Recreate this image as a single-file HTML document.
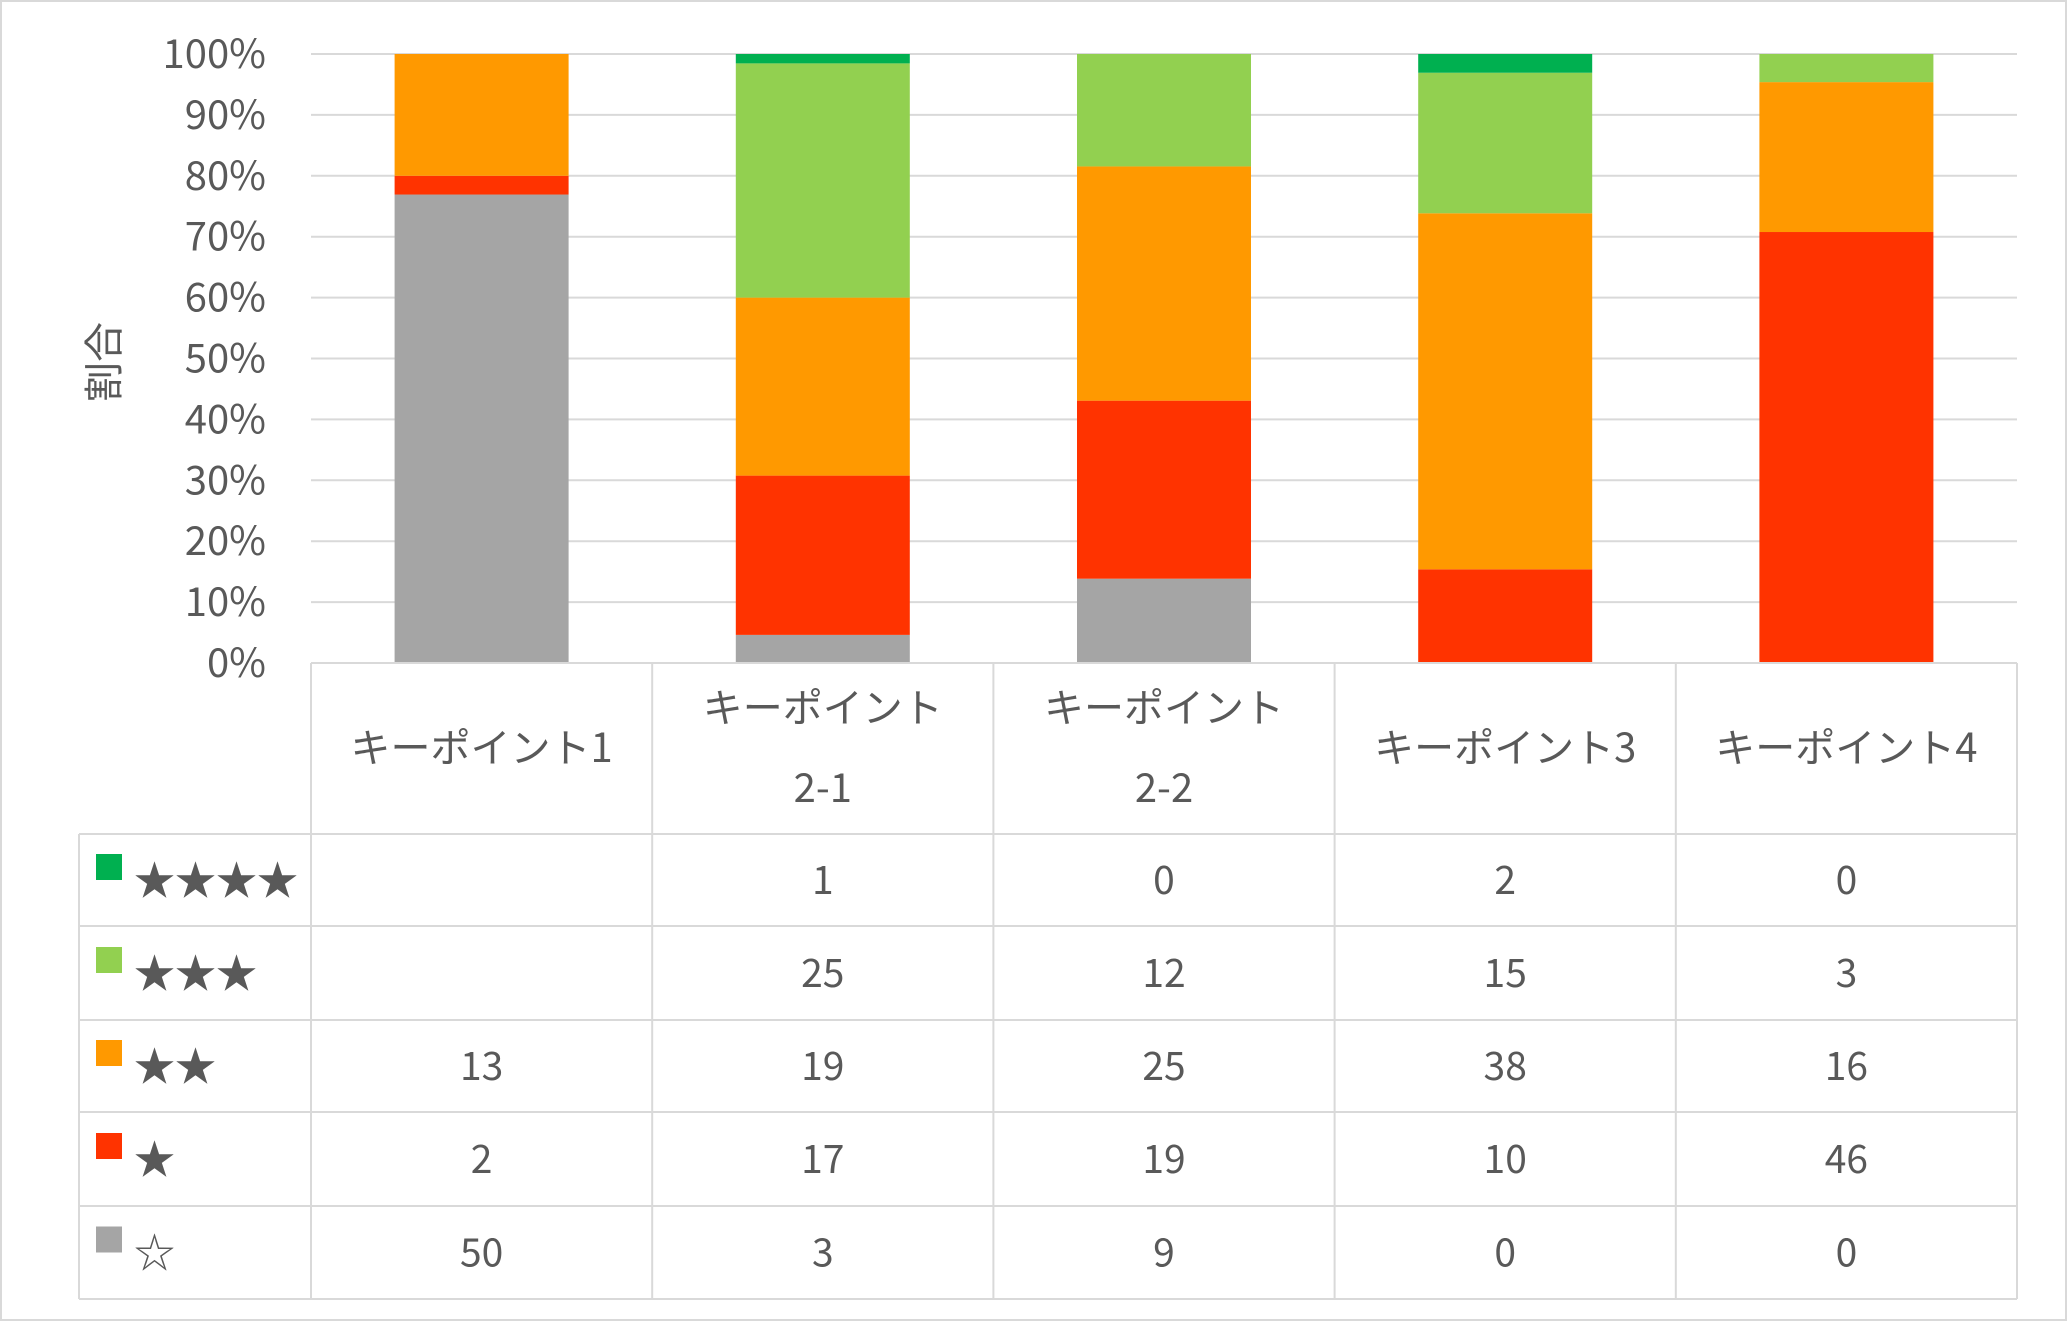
<!DOCTYPE html>
<html><head><meta charset="utf-8">
<style>
html,body{margin:0;padding:0;background:#fff;}
svg{display:block;font-family:"Noto Sans CJK JP","Liberation Sans",sans-serif;}
</style></head>
<body>
<svg id="chart" width="2068" height="1323" viewBox="0 0 2068 1323" xmlns="http://www.w3.org/2000/svg">
<rect x="1" y="1" width="2065" height="1319" fill="#fff" stroke="#d9d9d9" stroke-width="2"/>
<text x="0" y="0" transform="translate(118,362) rotate(-90)" text-anchor="middle" font-size="40" fill="#595959">割合</text>
<g id="grid"></g><g id="bars"></g><g id="table"></g>
</svg>
<script>
const categories = ["キーポイント1","キーポイント2-1","キーポイント2-2","キーポイント3","キーポイント4"];
const catLines = [["キーポイント1"],["キーポイント","2-1"],["キーポイント","2-2"],["キーポイント3"],["キーポイント4"]];
const seriesNames = ["★★★★","★★★","★★","★","☆"];
const seriesColors = ["#00b050","#92d050","#ff9900","#ff3300","#a5a5a5"];
const s4 = [null,1,0,2,0];
const s3 = [null,25,12,15,3];
const s2 = [13,19,25,38,16];
const s1 = [2,17,19,10,46];
const s0 = [50,3,9,0,0];
const yTicks = ["0%","10%","20%","30%","40%","50%","60%","70%","80%","90%","100%"];

const NS="http://www.w3.org/2000/svg";
const L=311,R=2017,T=54,B=663;
const colW=(R-L)/categories.length, barW=174;
const y=v=>B-(B-T)*v;
const x=i=>L+colW*i+colW/2;
function mk(tag,attrs,parent,txt){const e=document.createElementNS(NS,tag);for(const k in attrs)e.setAttribute(k,attrs[k]);if(txt!=null)e.textContent=txt;parent.appendChild(e);return e;}
const grid=document.getElementById('grid'),bars=document.getElementById('bars'),tbl=document.getElementById('table');
yTicks.forEach((t,i)=>{
  const v=i/(yTicks.length-1);
  const ln=mk('line',{x1:L,x2:R,y1:y(v),y2:y(v),stroke:'#d9d9d9','stroke-width':2},grid);
  
  
  const tx=mk('text',{x:266,y:y(v)+14,'text-anchor':'end','font-size':40,fill:'#595959'},grid,t);
  
  
});
const stack=[s0,s1,s2,s3,s4];
const stackColors=[seriesColors[4],seriesColors[3],seriesColors[2],seriesColors[1],seriesColors[0]];
categories.forEach((c,i)=>{
  const tot=stack.reduce((a,s)=>a+(s[i]||0),0);
  let acc=0;
  stack.forEach((s,k)=>{
    const v=(s[i]||0)/tot;
    if(v>0){
      const r=mk('rect',{x:x(i)-barW/2,y:y(acc+v),width:barW,height:y(acc)-y(acc+v),fill:stackColors[k]},bars);
      
      
    }
    acc+=v;
  });
});
const rowsY=[663,834,926,1020,1112,1206,1299];
const TL=79;
for(let i=0;i<=categories.length;i++){
  const xx=L+colW*i;
  mk('line',{x1:xx,x2:xx,y1:663,y2:1299,stroke:'#d9d9d9','stroke-width':2},tbl);
}
mk('line',{x1:TL,x2:TL,y1:834,y2:1299,stroke:'#d9d9d9','stroke-width':2},tbl);
rowsY.forEach((ry,i)=>{mk('line',{x1:i===0?L:TL,x2:R,y1:ry,y2:ry,stroke:'#d9d9d9','stroke-width':2},tbl);});
catLines.forEach((lines,i)=>{
  const cy=748, lh=80;
  lines.forEach((t,j)=>{
    const tx=mk('text',{x:x(i),y:cy+14+(j-(lines.length-1)/2)*lh,'text-anchor':'middle','font-size':40,fill:'#595959'},tbl,t);
    
    
  });
});
const rows=[s4,s3,s2,s1,s0];
seriesNames.forEach((n,r)=>{
  const cy=(rowsY[r+1]+rowsY[r+2])/2;
  const sw=mk('rect',{x:96,y:cy-26,width:26,height:26,fill:seriesColors[r]},tbl);
  
  
  const lt=mk('text',{x:134,y:cy+15,'font-size':41,fill:'#595959'},tbl,n);
  
  
  rows[r].forEach((v,i)=>{
    if(v===null)return;
    const tx=mk('text',{x:x(i),y:cy+14,'text-anchor':'middle','font-size':39,fill:'#595959'},tbl,String(v));
    
    
  });
});
</script>
</body></html>
